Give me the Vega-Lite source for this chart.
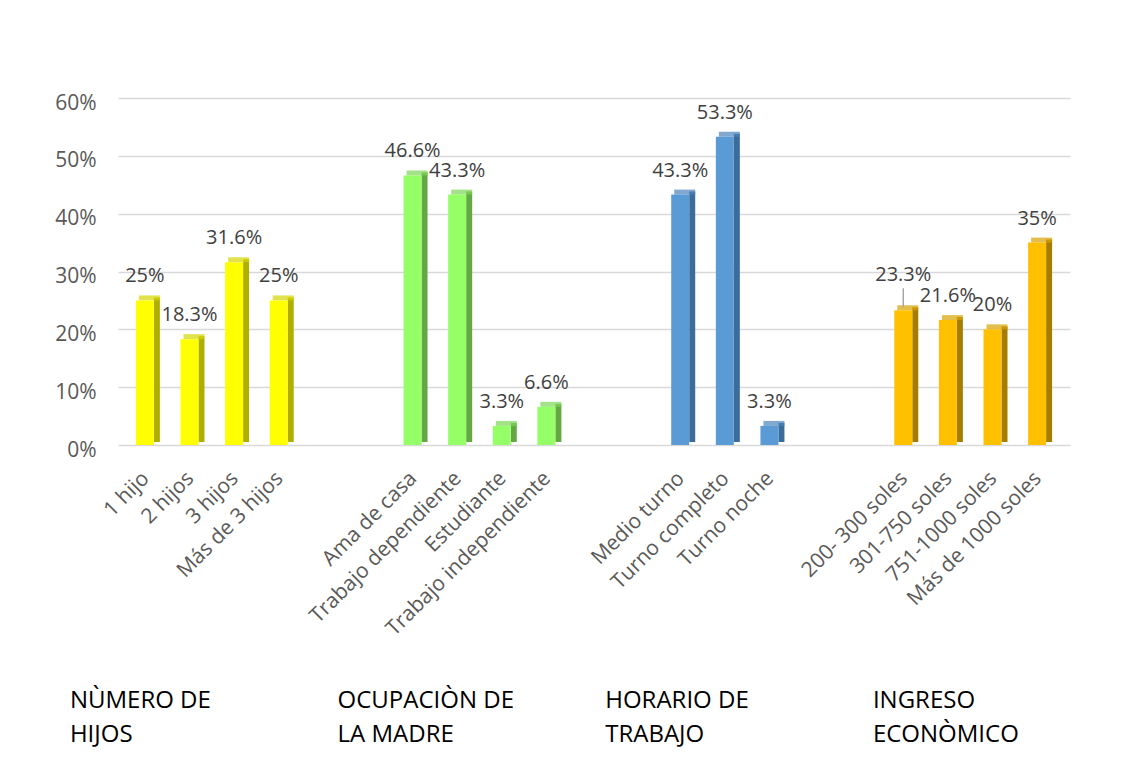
{
  "$schema": "https://vega.github.io/schema/vega-lite/v6.json",
  "autosize": {"type": "none"},
  "padding": {"left": 118, "top": 98, "right": 57, "bottom": 329},
  "width": 952,
  "height": 347,
  "background": "white",
  "config": {
    "view": {"stroke": null},
    "font": "Open Sans",
    "text": {"font": "Open Sans"}
  },
  "datasets": {
    "bars": [
      {"cat": "1 hijo", "value": 0.25, "grupo": "hijos"},
      {"cat": "2 hijos", "value": 0.183, "grupo": "hijos"},
      {"cat": "3 hijos", "value": 0.316, "grupo": "hijos"},
      {"cat": "Más de 3 hijos", "value": 0.25, "grupo": "hijos"},
      {"cat": "Ama de casa", "value": 0.466, "grupo": "ocupacion"},
      {"cat": "Trabajo dependiente", "value": 0.433, "grupo": "ocupacion"},
      {"cat": "Estudiante", "value": 0.033, "grupo": "ocupacion"},
      {"cat": "Trabajo independiente", "value": 0.066, "grupo": "ocupacion"},
      {"cat": "Medio turno", "value": 0.433, "grupo": "horario"},
      {"cat": "Turno completo", "value": 0.533, "grupo": "horario"},
      {"cat": "Turno noche", "value": 0.033, "grupo": "horario"},
      {"cat": "200- 300 soles", "value": 0.233, "grupo": "ingreso"},
      {"cat": "301-750 soles", "value": 0.216, "grupo": "ingreso"},
      {"cat": "751-1000 soles", "value": 0.2, "grupo": "ingreso"},
      {"cat": "Más de 1000 soles", "value": 0.35, "grupo": "ingreso"}
    ],
    "titles": [
      {"titulo": ["NÙMERO DE", "HIJOS"], "anchor": "1 hijo"},
      {"titulo": ["OCUPACIÒN DE", "LA MADRE"], "anchor": "Ama de casa"},
      {"titulo": ["HORARIO DE", "TRABAJO"], "anchor": "Medio turno"},
      {"titulo": ["INGRESO", "ECONÒMICO"], "anchor": "301-750 soles"}
    ]
  },
  "layer": [
    {
      "data": {"name": "bars"},
      "mark": {"type": "bar", "width": 6, "xOffset": 9, "yOffset": -3},
      "encoding": {
        "x": {
          "field": "cat",
          "type": "nominal",
          "scale": {
            "domain": ["1 hijo", "2 hijos", "3 hijos", "Más de 3 hijos", "_a", "_b",
                       "Ama de casa", "Trabajo dependiente", "Estudiante", "Trabajo independiente", "_c", "_d",
                       "Medio turno", "Turno completo", "Turno noche", "_e", "_f",
                       "200- 300 soles", "301-750 soles", "751-1000 soles", "Más de 1000 soles"],
            "paddingInner": 0,
            "paddingOuter": 0.17
          },
          "axis": {
            "title": null,
            "domain": false,
            "ticks": false,
            "labelAngle": -45,
            "labelAlign": "right",
            "labelBaseline": "middle",
            "labelPadding": 30,
            "labelOffset": -2,
            "labelFontSize": 21,
            "labelColor": "#595959",
            "labelFont": "Open Sans",
            "labelLimit": 400,
            "labelOverlap": false,
            "labelExpr": "indexof(datum.value, '_') == 0 ? '' : datum.value"
          }
        },
        "y": {
          "field": "value",
          "type": "quantitative",
          "scale": {"domain": [0, 0.6]},
          "axis": {
            "title": null,
            "format": ".0%",
            "values": [0, 0.1, 0.2, 0.3, 0.4, 0.5, 0.6],
            "domain": false,
            "ticks": false,
            "labelPadding": 22,
            "labelOffset": 5,
            "labelFontSize": 21,
            "labelColor": "#595959",
            "labelFont": "Open Sans",
            "gridColor": "#D9D9D9",
            "gridWidth": 1.5
          }
        },
        "color": {
          "field": "grupo", "type": "nominal", "legend": null,
          "scale": {"domain": ["hijos", "ocupacion", "horario", "ingreso"],
                    "range": ["#AFAF00", "#63A843", "#3B6C9A", "#A67D00"]}
        }
      }
    },
    {
      "data": {"name": "bars"},
      "mark": {"type": "tick", "size": 21, "thickness": 5, "xOffset": 1.5, "yOffset": -2.5},
      "encoding": {
        "x": {"field": "cat", "type": "nominal"},
        "y": {"field": "value", "type": "quantitative"},
        "color": {
          "field": "grupo", "type": "nominal", "legend": null,
          "scale": {"domain": ["hijos", "ocupacion", "horario", "ingreso"],
                    "range": ["#D6D600", "#7CD656", "#4B84BC", "#D9A200"]}
        }
      }
    },
    {
      "data": {"name": "bars"},
      "mark": {"type": "bar", "width": 18, "xOffset": -3},
      "encoding": {
        "x": {"field": "cat", "type": "nominal"},
        "y": {"field": "value", "type": "quantitative"},
        "color": {
          "field": "grupo", "type": "nominal", "legend": null,
          "scale": {"domain": ["hijos", "ocupacion", "horario", "ingreso"],
                    "range": ["#FFFF00", "#94FF66", "#5B9BD5", "#FFC000"]}
        }
      }
    },
    {
      "data": {"name": "bars"},
      "transform": [{"filter": "datum.cat !== '200- 300 soles'"}],
      "mark": {"type": "text", "dx": -3, "dy": -24, "baseline": "middle", "align": "center",
               "fontSize": 20, "color": "#404040", "font": "Open Sans"},
      "encoding": {
        "x": {"field": "cat", "type": "nominal"},
        "y": {"field": "value", "type": "quantitative"},
        "text": {"field": "value", "type": "quantitative", "format": ".1~%"}
      }
    },
    {
      "data": {"name": "bars"},
      "transform": [{"filter": "datum.cat === '200- 300 soles'"}],
      "mark": {"type": "rule", "color": "#A6A6A6", "strokeWidth": 1.5, "xOffset": -3, "yOffset": -3, "y2Offset": -22},
      "encoding": {
        "x": {"field": "cat", "type": "nominal"},
        "y": {"field": "value", "type": "quantitative"},
        "y2": {"field": "value"}
      }
    },
    {
      "data": {"name": "bars"},
      "transform": [{"filter": "datum.cat === '200- 300 soles'"}],
      "mark": {"type": "text", "dx": -3, "dy": -35, "baseline": "middle", "align": "center",
               "fontSize": 20, "color": "#404040", "font": "Open Sans"},
      "encoding": {
        "x": {"field": "cat", "type": "nominal"},
        "y": {"field": "value", "type": "quantitative"},
        "text": {"field": "value", "type": "quantitative", "format": ".1~%"}
      }
    },
    {
      "data": {"name": "titles"},
      "mark": {"type": "text", "align": "left", "baseline": "alphabetic", "dx": -78,
               "fontSize": 24, "color": "#000000", "lineHeight": 34,
               "font": "Open Sans"},
      "encoding": {
        "x": {"field": "anchor", "type": "nominal"},
        "y": {"datum": -0.454, "type": "quantitative"},
        "text": {"field": "titulo"}
      }
    }
  ],
  "resolve": {"scale": {"color": "independent"}}
}
